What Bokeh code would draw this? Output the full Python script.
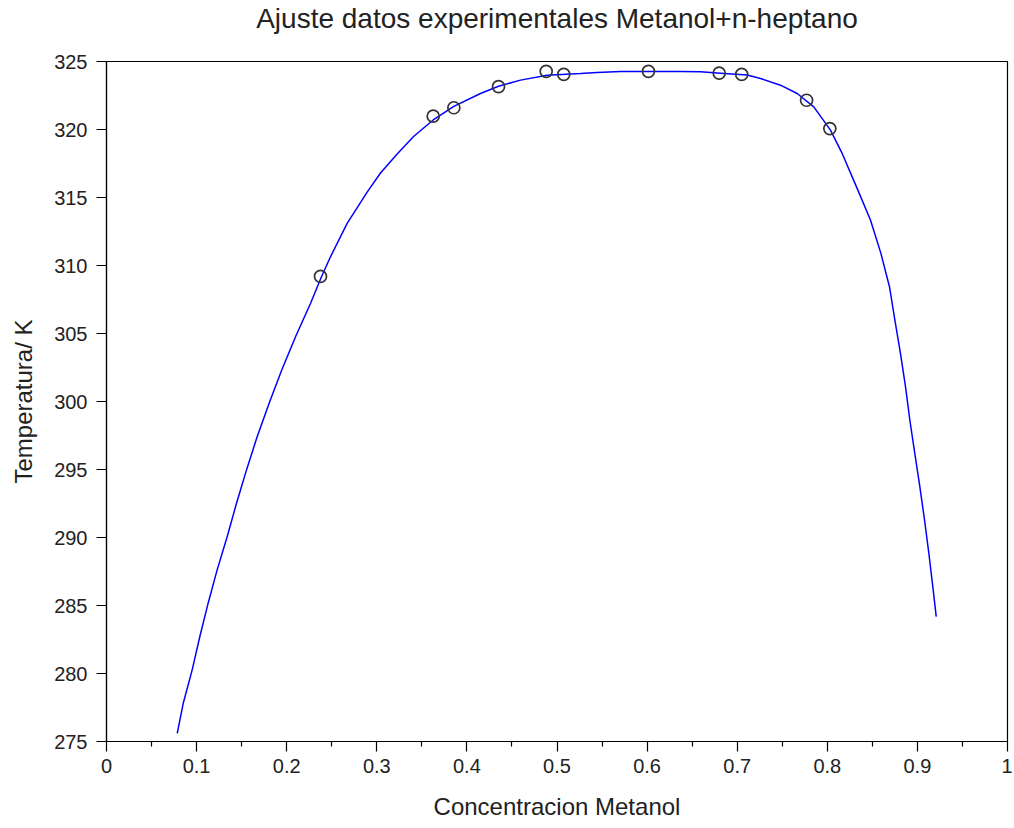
from bokeh.plotting import figure
from bokeh.models import Range1d, FixedTicker, Title
from bokeh.embed import file_html
from bokeh.resources import INLINE

# experimental points
x_exp = [0.2375, 0.3626, 0.3855, 0.4351, 0.4880, 0.5075, 0.6015, 0.6800, 0.7050, 0.7770, 0.8028]
t_exp = [309.2, 320.98, 321.6, 323.15, 324.28, 324.05, 324.28, 324.15, 324.05, 322.15, 320.07]

# fitted curve
x_fit = [0.0785, 0.0851, 0.0951, 0.1036, 0.1128, 0.1228, 0.1340, 0.1443, 0.1554, 0.1672,
         0.1805, 0.1945, 0.2098, 0.2264, 0.2386, 0.2486, 0.2671, 0.2893, 0.3041, 0.3226,
         0.3411, 0.3626, 0.3855, 0.4151, 0.4351, 0.4595, 0.4891, 0.5261, 0.5446, 0.5705,
         0.6038, 0.6370, 0.6593, 0.6815, 0.7110, 0.7259, 0.7480, 0.7666, 0.7850, 0.8035,
         0.8165, 0.8324, 0.8479, 0.8595, 0.8690, 0.8750, 0.8812, 0.8868, 0.8916, 0.8971,
         0.9027, 0.9079, 0.9127, 0.9171, 0.9209]
t_fit = [275.59, 277.79, 280.27, 282.72, 285.17, 287.62, 290.07, 292.52, 294.97, 297.41,
         299.87, 302.31, 304.76, 307.21, 309.17, 310.64, 313.10, 315.40, 316.80, 318.20,
         319.50, 320.70, 321.70, 322.65, 323.18, 323.63, 323.99, 324.12, 324.20, 324.26,
         324.26, 324.26, 324.24, 324.14, 324.00, 323.75, 323.26, 322.65, 321.66, 319.95,
         318.24, 315.78, 313.34, 310.89, 308.44, 305.99, 303.54, 301.09, 298.64, 296.19,
         293.74, 291.29, 288.84, 286.39, 284.18]

x_ticks = [0, 0.1, 0.2, 0.3, 0.4, 0.5, 0.6, 0.7, 0.8, 0.9, 1]
x_tick_labels = {0: "0", 0.1: "0.1", 0.2: "0.2", 0.3: "0.3", 0.4: "0.4", 0.5: "0.5",
                 0.6: "0.6", 0.7: "0.7", 0.8: "0.8", 0.9: "0.9", 1: "1"}
x_minor = [0.05, 0.15, 0.25, 0.35, 0.45, 0.55, 0.65, 0.75, 0.85, 0.95]
y_ticks = [275, 280, 285, 290, 295, 300, 305, 310, 315, 320, 325]
title_text = "Ajuste datos experimentales Metanol+n-heptano"

FONT = "Liberation Sans"

p = figure(width=1012, height=826, output_backend="svg", toolbar_location=None, title=None,
           x_range=Range1d(0, 1), y_range=Range1d(275, 325),
           min_border_left=106, min_border_right=5, min_border_top=61, min_border_bottom=85)

# spacer panel between frame and title, then the title itself (stacked outward)
p.add_layout(Title(text=" ", text_font_size="14px", standoff=8), "above")
p.add_layout(Title(text=title_text, align="center", vertical_align="top",
                   text_font=FONT, text_font_size="28px", text_font_style="normal",
                   text_color="#222222", standoff=0), "above")

p.xgrid.visible = False
p.ygrid.visible = False
p.outline_line_color = "black"
p.outline_line_width = 1.2
p.outline_line_alpha = 1

p.line(x_fit, t_fit, line_color="#0000ff", line_width=1.5)
p.scatter(x_exp, t_exp, marker="circle", size=12, fill_color=None,
          line_color="#333333", line_width=1.7)

xa = p.xaxis[0]
xa.ticker = FixedTicker(ticks=x_ticks, minor_ticks=x_minor)
xa.major_label_overrides = x_tick_labels
xa.axis_label = "Concentracion Metanol"
ya = p.yaxis[0]
ya.ticker = FixedTicker(ticks=y_ticks)
ya.axis_label = "Temperatura/ K"

for ax in (xa, ya):
    ax.axis_line_color = "black"
    ax.axis_line_width = 1.2
    ax.major_tick_line_color = "black"
    ax.major_tick_line_width = 1.2
    ax.major_tick_in = 0
    ax.major_tick_out = 10
    ax.major_label_text_font = FONT
    ax.major_label_text_font_size = "20px"
    ax.major_label_text_color = "#222222"
    ax.axis_label_text_font = FONT
    ax.axis_label_text_font_size = "24px"
    ax.axis_label_text_font_style = "normal"
    ax.axis_label_text_color = "#222222"

xa.minor_tick_line_color = "black"
xa.minor_tick_line_width = 1.2
xa.minor_tick_in = 0
xa.minor_tick_out = 5
xa.major_label_standoff = 7
xa.axis_label_standoff = 17
ya.minor_tick_line_color = None
ya.major_label_standoff = 9
ya.axis_label_standoff = 14

open("out.html", "w").write(file_html(p, INLINE))
